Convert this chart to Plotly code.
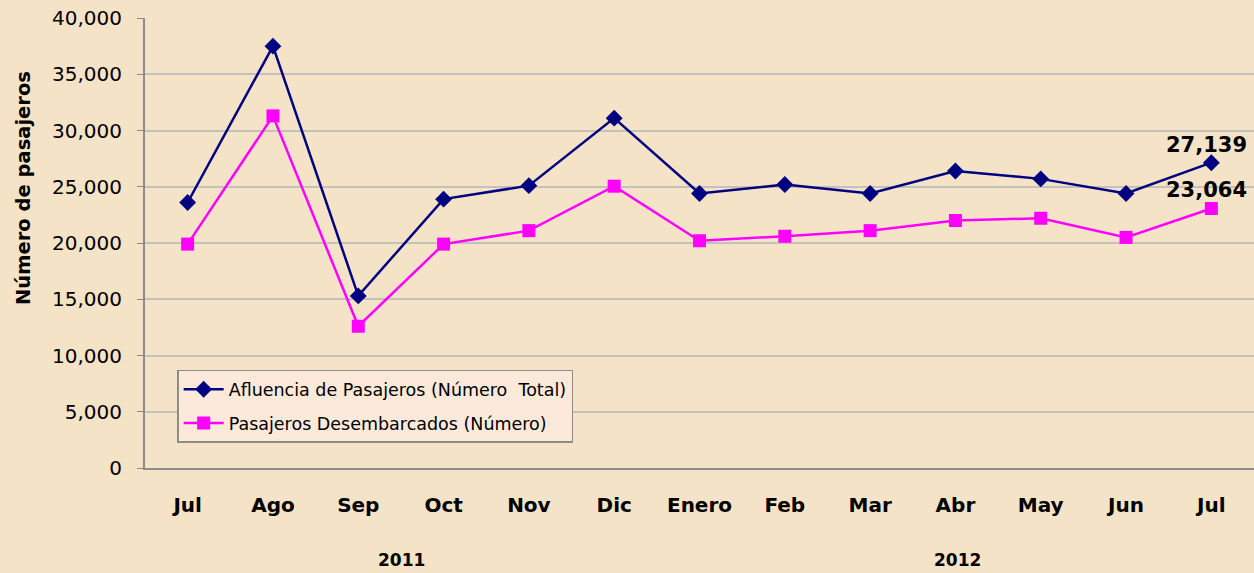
import plotly.graph_objects as go

months = ["Jul", "Ago", "Sep", "Oct", "Nov", "Dic", "Enero", "Feb", "Mar", "Abr", "May", "Jun", "Jul"]
afluencia = [23600, 37500, 15300, 23900, 25100, 31100, 24400, 25200, 24400, 26400, 25700, 24400, 27139]
desembarcados = [19900, 31300, 12600, 19900, 21100, 25050, 20200, 20600, 21100, 22000, 22200, 20500, 23064]
y_ticks = [0, 5000, 10000, 15000, 20000, 25000, 30000, 35000, 40000]
years = ["2011", "2012"]
year_pos = [2.51, 9.03]

x_idx = list(range(len(months)))
bg = "#F4E3C7"
font = "DejaVu Sans, Liberation Sans, sans-serif"

fig = go.Figure()
fig.add_trace(go.Scatter(
    x=x_idx, y=afluencia, mode="lines+markers",
    name="Afluencia de Pasajeros (Número  Total)", legendgroup="a",
    line=dict(color="#000080", width=2.5),
    marker=dict(symbol="diamond", size=13, color="#000080"),
))
fig.add_trace(go.Scatter(
    x=x_idx, y=desembarcados, mode="lines+markers",
    name="Pasajeros Desembarcados (Número)", legendgroup="b",
    line=dict(color="#FF00FF", width=2.5),
    marker=dict(symbol="square", size=13, color="#FF00FF"),
))

# labels on last point
fig.add_annotation(x=x_idx[-1], y=afluencia[-1], text=f"<b>{afluencia[-1]:,}</b>",
                   showarrow=False, xanchor="center", yanchor="bottom", yshift=4, xshift=-5,
                   font=dict(size=21, color="#000000", family=font))
fig.add_annotation(x=x_idx[-1], y=desembarcados[-1], text=f"<b>{desembarcados[-1]:,}</b>",
                   showarrow=False, xanchor="center", yanchor="bottom", yshift=5, xshift=-5,
                   font=dict(size=21, color="#000000", family=font))

# year labels
for yr, xc in zip(years, year_pos):
    fig.add_annotation(x=xc, y=0, yref="paper", text=f"<b>{yr}</b>", showarrow=False,
                       yanchor="middle", yshift=-92, font=dict(size=17, color="#000000", family=font))

# y axis title
fig.add_annotation(x=(23 - 145) / 1109, y=(468 - 188) / 450, xref="paper", yref="paper",
                   text="<b>Número de pasajeros</b>", textangle=-90, showarrow=False,
                   xanchor="center", yanchor="middle",
                   font=dict(size=19.5, color="#000000", family=font))

fig.update_xaxes(
    range=[-0.5, 12.5], tickvals=x_idx, ticktext=[f"<b>{m}</b>" for m in months],
    showline=True, linecolor="#8C8C8C", linewidth=2, showgrid=False, ticks="",
    tickfont=dict(size=20, color="#000000", family=font), ticklabelstandoff=18,
    zeroline=False,
)
fig.update_yaxes(
    range=[0, 40000], tickvals=y_ticks, tickformat=",d",
    showline=True, linecolor="#8C8C8C", linewidth=2, ticks="outside", ticklen=6,
    tickcolor="#8C8C8C", showgrid=True, gridcolor="#C4C0BA", gridwidth=1.5,
    tickfont=dict(size=20, color="#000000", family=font), ticklabelstandoff=11,
    zeroline=False,
)
fig.update_layout(
    width=1254, height=573,
    margin=dict(l=145, r=0, t=18, b=105),
    paper_bgcolor=bg, plot_bgcolor=bg,
    font=dict(family=font),
    legend=dict(x=0.029, y=0.218, xanchor="left", yanchor="top",
                bgcolor="#FCE9DA", bordercolor="#8C8C8C", borderwidth=1.5,
                font=dict(size=17.5, color="#000000", family=font),
                itemwidth=40, tracegroupgap=8),
    showlegend=True,
)

fig.write_html("out.html", config={"displayModeBar": False},
               post_script="document.body.style.margin='0';document.body.style.background='#F4E3C7';")
